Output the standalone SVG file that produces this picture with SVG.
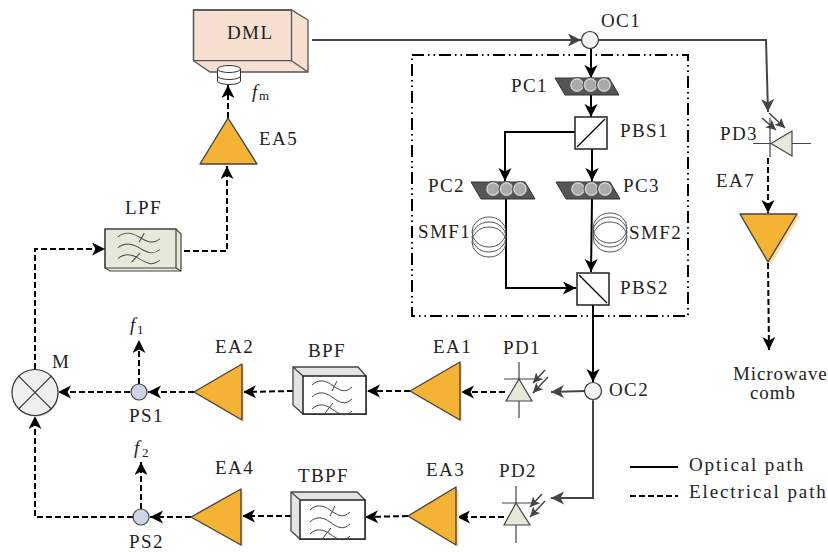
<svg xmlns="http://www.w3.org/2000/svg" xmlns:xlink="http://www.w3.org/1999/xlink" width="828" height="552" viewBox="0 0 828 552">
<style>
text{font-family:"Liberation Serif","DejaVu Serif",serif;font-size:19px;fill:#222;letter-spacing:1.4px}
.i{font-style:italic;letter-spacing:0}
.s{font-size:13px;letter-spacing:0}
.l{letter-spacing:1.900px}
.m{letter-spacing:.9px}
.o{fill:none;stroke:#000;stroke-width:2}
.og{fill:none;stroke:#444;stroke-width:2}
.e{fill:none;stroke:#000;stroke-width:2;stroke-dasharray:6 3}
.a{marker-end:url(#ab)}
.ag{marker-end:url(#ag)}
.amp{fill:#f5b335;stroke:#444;stroke-width:1.4;stroke-linejoin:round}
.sh{fill:#fbdfa8}
.pd{fill:#e4e9da;stroke:#444;stroke-width:1.2}
.ln{stroke:#444;stroke-width:1.2;fill:none}
.lna{stroke:#444;stroke-width:1.5;fill:none;marker-end:url(#as)}
.coil{fill:none;stroke:#555;stroke-width:1}
.wv{fill:none;stroke:#444;stroke-width:1}
.box{fill:#fff;stroke:#222;stroke-width:1.5}
.roll{fill:#aaa;stroke:#555;stroke-width:1.2}
.rin{fill:none;stroke:#ddd;stroke-width:1}
</style>
<defs>
<marker id="ab" markerUnits="userSpaceOnUse" markerWidth="15" markerHeight="14" refX="13" refY="6.500" orient="auto"><path d="M13,6.500 L0,0 L3.500,6.500 L0,13Z" fill="#000"/></marker>
<marker id="ag" markerUnits="userSpaceOnUse" markerWidth="15" markerHeight="14" refX="13" refY="6.500" orient="auto"><path d="M13,6.500 L0,0 L3.500,6.500 L0,13Z" fill="#444"/></marker>
<marker id="as" markerUnits="userSpaceOnUse" markerWidth="12" markerHeight="11" refX="10" refY="5" orient="auto"><path d="M10,5 L0,0 L2.500,5 L0,10Z" fill="#444"/></marker>
<g id="waves" class="wv">
<path d="M-20,-9 C-14,-15 -7,-14 0,-9 S13,0 20,-7"/>
<path d="M-20,3 C-14,-3 -7,-2 0,3 S13,12 20,5"/>
<path d="M-20,15 C-14,9 -7,10 0,15 S13,24 20,17"/>
<path d="M0,-3 L5,-13 M-7,19 L1,9"/>
</g>
<g id="pc">
<path d="M0,0 H54 L64,17 H10Z" fill="#555" stroke="#333" stroke-width="1"/>
<circle class="roll" cx="22" cy="7" r="7.500"/><circle class="rin" cx="22" cy="7" r="6"/>
<circle class="roll" cx="35.500" cy="7" r="7.500"/><circle class="rin" cx="35.500" cy="7" r="6"/>
<circle class="roll" cx="49" cy="7" r="7.500"/><circle class="rin" cx="49" cy="7" r="6"/>
</g>
<g id="pdarrows">
<path class="lna" d="M23,-11 L11,2"/>
<path class="lna" d="M26,-4 L11,12"/>
</g>
</defs>

<g id="connectors">
<path class="og ag" d="M312,40 H581"/>
<path class="og ag" d="M598,40 H766 L768,112"/>
<path class="o a" d="M591,49 V78"/>
<path class="o a" d="M591,95 V117"/>
<path class="o a" d="M575,132 H505 V181"/>
<path class="o a" d="M592,149 V181"/>
<path class="o a" d="M506,199 V288 H576"/>
<path class="o a" d="M592,199 L591,272"/>
<path class="o a" d="M593,305 V382"/>
<path class="og ag" d="M585,391 L551,392"/>
<path class="og ag" d="M593,400 V498 H551"/>
<path class="e a" d="M505,392 H461"/>
<path class="e a" d="M410,391 H367"/>
<path class="e a" d="M293,391 L243,392"/>
<path class="e a" d="M194,392 H148"/>
<path class="e a" d="M130,392 H58"/>
<path class="e a" d="M139,384 V340"/>
<path class="e a" d="M504,517 H457"/>
<path class="e a" d="M408,516 L365,517"/>
<path class="e a" d="M291,516 L242,516"/>
<path class="e a" d="M191,517 H150"/>
<path class="e a" d="M141,509 V462"/>
<path class="e a" d="M133,517 H35 V416"/>
<path class="e a" d="M35,369 V249 H105"/>
<path class="e a" d="M184,251 H227 V166"/>
<path class="e a" d="M228,118 V85"/>
<path class="e a" d="M768,158 V213"/>
<path class="e a" d="M768,263 L769,350"/>
</g>

<g id="box"><rect x="412" y="55" width="276" height="261" fill="none" stroke="#000" stroke-width="2" stroke-dasharray="12 4 1.500 4 1.500 4"/></g>

<g id="DML">
<path d="M193.500,10 H291.500 L308,20 V72 H210 L193.500,60.700Z" fill="#f7e0d2" stroke="#555" stroke-width="1.300"/>
<path d="M193.500,10 H291.500 V60.700 H193.500Z M291.500,60.700 L308,72" fill="none" stroke="#555" stroke-width="1.300"/>
<text x="227" y="39">DML</text>
</g>
<g id="mod">
<ellipse cx="229" cy="81" rx="11.500" ry="3.500" fill="#fff" stroke="#333"/>
<rect x="218" y="69" width="22" height="12" fill="#fff"/>
<path d="M217.500,69 V81 M240.500,69 V81" stroke="#333" fill="none"/>
<ellipse cx="229" cy="69" rx="11.500" ry="3.500" fill="#fff" stroke="#333"/>
<path d="M217.500,76 A11.500,3.500 0 0 0 240.500,76" fill="none" stroke="#333"/>
<text class="i" x="252" y="98">f</text><text class="s" x="259" y="100">m</text>
</g>
<g id="EA5"><path class="amp" d="M228,118 L257,164 H200Z"/><text x="259" y="145">EA5</text></g>
<g id="LPF">
<path d="M105,229 H176 L181,234 V271 H110 L105,268Z" fill="#e4e9da" stroke="#444" stroke-width="1.200"/>
<path d="M105,229 H176 V268 H105Z M176,268 L181,271" fill="none" stroke="#444" stroke-width="1.200"/>
<use xlink:href="#waves" href="#waves" transform="translate(139,245) scale(1.050,.9)"/>
<text x="125" y="214">LPF</text>
</g>

<g id="OC1"><circle cx="590" cy="40" r="8.500" fill="#f2f2f2" stroke="#333" stroke-width="1.200"/><text x="601" y="27">OC1</text></g>
<g id="PC1"><use xlink:href="#pc" href="#pc" transform="translate(555,78)"/><text x="511" y="92">PC1</text></g>
<g id="PBS1"><rect class="box" x="575" y="117" width="32" height="32"/><path d="M577,147 L605,119" stroke="#000" stroke-width="1.300"/><text x="620" y="137">PBS1</text></g>
<g id="PC2"><use xlink:href="#pc" href="#pc" transform="translate(471,182)"/><text x="428" y="192">PC2</text></g>
<g id="PC3"><use xlink:href="#pc" href="#pc" transform="translate(556,182)"/><text x="623" y="192">PC3</text></g>
<g id="SMF1"><ellipse class="coil" cx="489" cy="232" rx="17" ry="15"/><ellipse class="coil" cx="489" cy="237" rx="17" ry="15"/><ellipse class="coil" cx="489" cy="242" rx="17" ry="15"/><text x="418" y="238">SMF1</text></g>
<g id="SMF2"><ellipse class="coil" cx="610" cy="228" rx="17" ry="15"/><ellipse class="coil" cx="610" cy="232" rx="17" ry="15"/><ellipse class="coil" cx="610" cy="237" rx="17" ry="15"/><text x="629" y="239">SMF2</text></g>
<g id="PBS2"><rect class="box" x="577" y="273" width="32" height="32"/><path d="M579,275 L607,303" stroke="#000" stroke-width="1.300"/><text x="620" y="294">PBS2</text></g>

<g id="OC2"><circle cx="594" cy="392" r="8.500" fill="#ddd"/><circle cx="593" cy="391" r="8.500" fill="#f4f4f4" stroke="#333" stroke-width="1.200"/><text x="609" y="396">OC2</text></g>
<g id="PD1"><path class="ln" d="M519,362 V418 M504,379 H534"/><path class="pd" d="M519,379 L532,401 H506Z"/><use xlink:href="#pdarrows" href="#pdarrows" transform="translate(522,381)"/><text x="503" y="354">PD1</text></g>
<g id="PD2"><path class="ln" d="M516,486 V543 M502,503 H532"/><path class="pd" d="M516,503 L530,525 H504Z"/><use xlink:href="#pdarrows" href="#pdarrows" transform="translate(519,505)"/><text x="499" y="477">PD2</text></g>
<g id="EA1"><path class="sh" d="M412,393 L462,422 V364Z"/><path class="amp" d="M410,391 L460,362 V420Z"/><text x="433" y="353">EA1</text></g>
<g id="EA3"><path class="sh" d="M410,518 L459,547 V489Z"/><path class="amp" d="M408,516 L456,487 V545Z"/><text x="426" y="476">EA3</text></g>
<g id="BPF">
<path d="M293,367 H358 L366,376 V414 H303 L293,405Z" fill="#e4e4e4" stroke="#444" stroke-width="1.300"/>
<rect class="box" x="303" y="376" width="63" height="38"/>
<path d="M293,367 L303,376" stroke="#444" stroke-width="1.300"/>
<use xlink:href="#waves" href="#waves" transform="translate(332,394)"/>
<text x="308" y="357">BPF</text>
</g>
<g id="TBPF">
<path d="M291,492 H357 L365,500 V539 H300 L291,531Z" fill="#e4e4e4" stroke="#444" stroke-width="1.300"/>
<rect class="box" x="300" y="500" width="65" height="39"/>
<path d="M291,492 L300,500" stroke="#444" stroke-width="1.300"/>
<use xlink:href="#waves" href="#waves" transform="translate(330,519)"/>
<text x="298" y="482">TBPF</text>
</g>
<g id="EA2"><path class="sh" d="M196,394 L244,422 V366Z"/><path class="amp" d="M194,392 L242,364 V420Z"/><text x="215" y="353">EA2</text></g>
<g id="EA4"><path class="sh" d="M193,519 L243,547 V491Z"/><path class="amp" d="M191,517 L241,489 V545Z"/><text x="215" y="474">EA4</text></g>
<g id="PS1"><circle cx="139" cy="392" r="8" fill="#cdd5e6" stroke="#444" stroke-width="1.200"/><text x="129" y="422">PS1</text></g>
<g id="f1"><text class="i" x="130" y="331">f</text><text class="s" x="137" y="334">1</text></g>
<g id="PS2"><circle cx="141" cy="517" r="8" fill="#cdd5e6" stroke="#444" stroke-width="1.200"/><text x="129" y="548">PS2</text></g>
<g id="f2"><text class="i" x="134" y="454">f</text><text class="s" x="142" y="457">2</text></g>
<g id="M"><circle cx="36" cy="394" r="23" fill="#ddd"/><circle cx="35" cy="392.500" r="23" fill="#efefef" stroke="#333" stroke-width="1.200"/><path d="M18.700,376.200 L51.300,408.800 M51.300,376.200 L18.700,408.800" stroke="#333" stroke-width="1.200"/><text x="52" y="368">M</text></g>

<g id="PD3"><path class="ln" d="M753,143.500 H811 M770,118 V157"/><path class="pd" d="M771,143.500 L792,131 V156Z"/>
<path class="lna" d="M762,118 L776,130"/><path class="lna" d="M769,113 L785,128"/>
<text x="720" y="140">PD3</text></g>
<g id="EA7"><path class="sh" d="M743,216 L800,216 L771,265Z"/><path class="amp" d="M740,214 H797 L768,262Z"/><text x="716" y="187">EA7</text></g>
<g id="comb"><text class="m" x="733" y="380">Microwave</text><text class="m" x="750" y="399">comb</text></g>
<g id="legend">
<path class="o" d="M630,467 H678"/><path class="e" d="M630,496 H678"/>
<text class="l" x="689" y="471">Optical path</text><text class="l" x="689" y="498">Electrical path</text>
</g>
</svg>
